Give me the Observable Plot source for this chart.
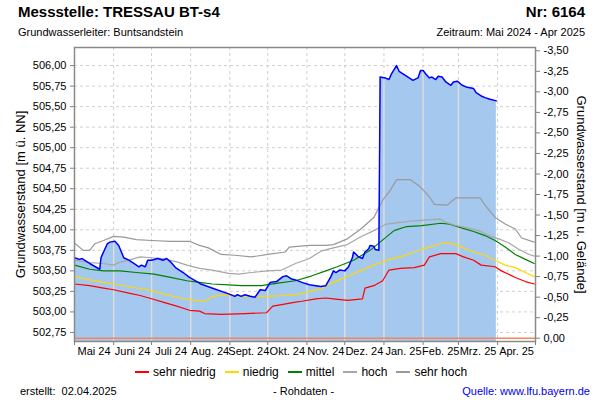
<!DOCTYPE html>
<html>
<head>
<meta charset="utf-8">
<script src="https://cdn.jsdelivr.net/npm/d3@7"></script>
<script src="https://cdn.jsdelivr.net/npm/@observablehq/plot@0.6"></script>
<style>
  body { margin:0; width:600px; height:400px; position:relative; background:#fff;
         font-family:"Liberation Sans", Arial, sans-serif; color:#000; overflow:hidden; }
  .abs { position:absolute; white-space:nowrap; line-height:1.2; }
  #legend { position:absolute; top:365px; left:135px; display:flex; align-items:center; font-size:12px; }
  #legend .item { display:flex; align-items:center; margin-right:9px; }
  #legend .sw { display:inline-block; width:14px; height:2px; margin-right:4px; }
</style>
</head>
<body>
<div class="abs" style="left:18px; top:3px; font-size:15px; font-weight:bold;">Messstelle: TRESSAU BT-s4</div>
<div class="abs" style="right:15px; top:3px; font-size:15px; font-weight:bold;">Nr: 6164</div>
<div class="abs" style="left:18px; top:26px; font-size:11px;">Grundwasserleiter: Buntsandstein</div>
<div class="abs" style="right:15px; top:26px; font-size:11px;">Zeitraum: Mai 2024 - Apr 2025</div>
<div id="chart" class="abs" style="left:0; top:40px;"></div>
<div id="legend"></div>
<div class="abs" style="left:20px; top:385px; font-size:11px;">erstellt:&nbsp; 02.04.2025</div>
<div class="abs" style="left:273px; top:385px; font-size:11px;">- Rohdaten -</div>
<div class="abs" style="right:10px; top:385px; font-size:11px; color:#0000ee;">Quelle: www.lfu.bayern.de</div>
<script>
// ---------- Daten ----------
const gelaende = 502.68; // Bezugshöhe Gelände (m ü. NN) für rechte Achse

const linksTicks = [502.75, 503.00, 503.25, 503.50, 503.75, 504.00, 504.25, 504.50, 504.75, 505.00, 505.25, 505.50, 505.75, 506.00];
const rechtsTicks = [-3.50, -3.25, -3.00, -2.75, -2.50, -2.25, -2.00, -1.75, -1.50, -1.25, -1.00, -0.75, -0.50, -0.25, 0.00];
const monate = ["Mai 24", "Juni 24", "Juli 24", "Aug. 24", "Sept. 24", "Okt. 24", "Nov. 24", "Dez. 24", "Jan. 25", "Feb. 25", "Mrz. 25", "Apr. 25"];

const messwerte = [
["2024-05-01",503.66],["2024-05-05",503.64],["2024-05-07",503.65],["2024-05-13",503.59],["2024-05-21",503.52],
["2024-05-22",503.66],["2024-05-24",503.73],["2024-05-27",503.83],["2024-05-29",503.85],["2024-06-02",503.86],
["2024-06-05",503.81],["2024-06-09",503.66],["2024-06-13",503.63],["2024-06-17",503.59],["2024-06-21",503.55],
["2024-06-23",503.57],["2024-06-26",503.55],["2024-06-28",503.63],["2024-07-01",503.63],["2024-07-06",503.65],
["2024-07-10",503.63],["2024-07-13",503.65],["2024-07-16",503.61],["2024-07-20",503.54],["2024-07-26",503.48],
["2024-07-31",503.42],["2024-08-07",503.36],["2024-08-09",503.34],["2024-08-20",503.28],["2024-08-31",503.22],
["2024-09-05",503.19],["2024-09-07",503.21],["2024-09-10",503.19],["2024-09-13",503.21],["2024-09-17",503.19],
["2024-09-21",503.18],["2024-09-25",503.27],["2024-09-29",503.26],["2024-10-03",503.36],["2024-10-08",503.37],
["2024-10-13",503.43],["2024-10-16",503.44],["2024-10-20",503.40],["2024-10-23",503.39],["2024-10-28",503.36],
["2024-11-03",503.33],["2024-11-08",503.32],["2024-11-12",503.31],["2024-11-16",503.32],["2024-11-20",503.43],
["2024-11-22",503.50],["2024-11-24",503.48],["2024-11-27",503.51],["2024-12-01",503.50],["2024-12-04",503.55],
["2024-12-07",503.66],["2024-12-08",503.73],["2024-12-12",503.67],["2024-12-15",503.65],["2024-12-17",503.73],
["2024-12-20",503.77],["2024-12-21",503.81],["2024-12-24",503.80],["2024-12-25",503.76],["2024-12-28",503.75],
["2024-12-29",505.86],["2025-01-02",505.85],["2025-01-05",505.83],["2025-01-07",505.90],["2025-01-11",506.00],
["2025-01-13",505.93],["2025-01-17",505.89],["2025-01-21",505.85],["2025-01-24",505.82],["2025-01-28",505.85],
["2025-01-30",505.94],["2025-02-01",505.94],["2025-02-03",505.90],["2025-02-06",505.85],["2025-02-08",505.86],
["2025-02-11",505.83],["2025-02-13",505.87],["2025-02-16",505.86],["2025-02-19",505.80],["2025-02-23",505.76],
["2025-02-25",505.80],["2025-02-28",505.81],["2025-03-04",505.76],["2025-03-07",505.74],["2025-03-13",505.72],
["2025-03-15",505.67],["2025-03-19",505.63],["2025-03-22",505.61],["2025-03-26",505.59],["2025-03-31",505.57]
];

const sehrNiedrig = [
["2024-05-01",503.34],["2024-05-13",503.32],["2024-05-24",503.29],["2024-06-01",503.27],["2024-06-13",503.23],
["2024-06-22",503.20],["2024-07-01",503.16],["2024-07-10",503.12],["2024-07-21",503.07],["2024-07-31",503.02],
["2024-08-08",503.01],["2024-08-12",502.98],["2024-08-25",502.97],["2024-09-13",502.98],["2024-09-30",502.99],
["2024-10-05",503.07],["2024-10-12",503.09],["2024-10-23",503.12],["2024-10-28",503.13],["2024-11-08",503.16],
["2024-11-16",503.17],["2024-11-22",503.16],["2024-12-03",503.14],["2024-12-15",503.16],["2024-12-17",503.29],
["2024-12-24",503.32],["2024-12-31",503.38],["2025-01-05",503.51],["2025-01-14",503.53],["2025-01-25",503.54],
["2025-02-02",503.57],["2025-02-06",503.67],["2025-02-15",503.71],["2025-02-27",503.71],["2025-03-05",503.67],
["2025-03-13",503.63],["2025-03-19",503.57],["2025-03-30",503.55],["2025-04-04",503.50],["2025-04-15",503.42],
["2025-04-23",503.37],["2025-04-30",503.34]
];

const niedrig = [
["2024-05-01",503.43],["2024-05-13",503.39],["2024-05-24",503.36],["2024-06-01",503.34],["2024-06-13",503.31],
["2024-07-01",503.26],["2024-07-10",503.22],["2024-07-24",503.17],["2024-08-04",503.14],["2024-08-12",503.13],
["2024-08-18",503.19],["2024-08-31",503.21],["2024-09-13",503.19],["2024-09-30",503.19],["2024-10-12",503.20],
["2024-10-23",503.21],["2024-10-30",503.23],["2024-11-05",503.26],["2024-11-12",503.28],["2024-11-16",503.32],
["2024-11-22",503.36],["2024-12-01",503.42],["2024-12-13",503.50],["2024-12-24",503.57],["2025-01-03",503.63],
["2025-01-14",503.67],["2025-01-25",503.73],["2025-02-04",503.78],["2025-02-15",503.83],["2025-02-19",503.84],
["2025-02-27",503.82],["2025-03-05",503.78],["2025-03-13",503.73],["2025-03-22",503.69],["2025-03-30",503.63],
["2025-04-07",503.57],["2025-04-15",503.54],["2025-04-23",503.48],["2025-04-30",503.43]
];

const mittel = [
["2024-05-01",503.57],["2024-05-13",503.52],["2024-05-24",503.50],["2024-06-06",503.50],["2024-06-19",503.48],
["2024-07-03",503.46],["2024-07-16",503.42],["2024-07-29",503.38],["2024-08-08",503.36],["2024-08-18",503.34],
["2024-08-31",503.33],["2024-09-10",503.32],["2024-09-26",503.32],["2024-10-09",503.35],["2024-10-23",503.38],
["2024-11-05",503.44],["2024-11-16",503.50],["2024-11-25",503.55],["2024-12-08",503.63],["2024-12-21",503.75],
["2024-12-29",503.85],["2025-01-09",503.99],["2025-01-19",504.04],["2025-01-31",504.05],["2025-02-15",504.08],
["2025-02-22",504.07],["2025-03-04",504.02],["2025-03-13",503.98],["2025-03-22",503.93],["2025-03-30",503.87],
["2025-04-07",503.79],["2025-04-15",503.70],["2025-04-23",503.64],["2025-04-30",503.59]
];

const hoch = [
["2024-05-01",503.63],["2024-05-13",503.60],["2024-05-24",503.59],["2024-06-01",503.57],["2024-06-05",503.60],
["2024-06-13",503.63],["2024-06-22",503.67],["2024-07-01",503.66],["2024-07-10",503.65],["2024-07-21",503.61],
["2024-07-29",503.57],["2024-08-08",503.53],["2024-08-18",503.51],["2024-08-31",503.47],["2024-09-08",503.46],
["2024-09-18",503.48],["2024-10-01",503.50],["2024-10-12",503.51],["2024-10-23",503.59],["2024-11-03",503.65],
["2024-11-12",503.74],["2024-11-22",503.78],["2024-12-03",503.82],["2024-12-13",503.91],["2024-12-24",503.99],
["2025-01-03",504.07],["2025-01-14",504.09],["2025-01-25",504.11],["2025-02-04",504.12],["2025-02-15",504.13],
["2025-02-19",504.09],["2025-02-27",504.05],["2025-03-09",504.02],["2025-03-17",503.99],["2025-03-25",503.93],
["2025-04-02",503.89],["2025-04-10",503.84],["2025-04-18",503.76],["2025-04-26",503.70],["2025-04-30",503.68]
];

const sehrHoch = [
["2024-05-01",503.84],["2024-05-08",503.75],["2024-05-13",503.75],["2024-05-17",503.83],["2024-05-24",503.87],
["2024-06-01",503.92],["2024-06-09",503.91],["2024-06-19",503.88],["2024-07-01",503.87],["2024-07-16",503.86],
["2024-07-31",503.86],["2024-08-08",503.81],["2024-08-15",503.78],["2024-08-25",503.70],["2024-09-05",503.69],
["2024-09-18",503.67],["2024-10-01",503.70],["2024-10-15",503.73],["2024-10-18",503.79],["2024-11-03",503.81],
["2024-11-16",503.81],["2024-11-22",503.82],["2024-12-03",503.89],["2024-12-13",504.00],["2024-12-24",504.15],
["2024-12-31",504.36],["2025-01-06",504.48],["2025-01-11",504.61],["2025-01-22",504.61],["2025-01-30",504.52],
["2025-02-06",504.40],["2025-02-10",504.31],["2025-02-20",504.30],["2025-02-27",504.39],["2025-03-18",504.39],
["2025-03-22",504.30],["2025-03-30",504.15],["2025-04-07",504.07],["2025-04-15",504.01],["2025-04-20",503.90],
["2025-04-30",503.85]
];

// ---------- Aufbereitung ----------
const parse = s => new Date(s + "T00:00:00Z");
const rows = arr => arr.map(([d, v]) => ({date: parse(d), value: v}));
const mess = rows(messwerte);

const serien = [
  {name: "sehr niedrig", color: "#ff0000", data: rows(sehrNiedrig)},
  {name: "niedrig",      color: "#ffd800", data: rows(niedrig)},
  {name: "mittel",       color: "#008000", data: rows(mittel)},
  {name: "hoch",         color: "#a6a6a6", data: rows(hoch)},
  {name: "sehr hoch",    color: "#999999", data: rows(sehrHoch)}
];

const xStart = parse("2024-05-01"), xEnde = parse("2025-05-01");
const yMin = 502.64, yMax = 506.22;
const monatsAnfaenge = d3.utcMonth.range(xStart, d3.utcDay.offset(xEnde, 1));
const monatsMitten = monatsAnfaenge.slice(0, -1).map((m, i) => new Date((+m + +monatsAnfaenge[i + 1]) / 2));
const labelMap = new Map(monatsMitten.map((d, i) => [+d, monate[i]]));

// Monatslinien innerhalb der Messwertfläche (bis zur Messkurve)
const bis = d3.bisector(d => d.date).left;
const monatsLinien = monatsAnfaenge
  .filter(m => m > mess[0].date && m < mess[mess.length - 1].date)
  .map(m => {
    const i = bis(mess, m);
    const a = mess[i - 1], b = mess[i];
    const t = (m - a.date) / (b.date - a.date);
    return {date: m, value: a.value + t * (b.value - a.value)};
  });

const fmt = v => d3.format(".2f")(v).replace(".", ",").replace("−", "-");
const rechtsPos = rechtsTicks.map(r => gelaende - r);

const chart = Plot.plot({
  width: 600,
  height: 325,
  marginTop: 7,
  marginBottom: 24,
  marginLeft: 74,
  marginRight: 65,
  style: {fontFamily: "'Liberation Sans', Arial, sans-serif", fontSize: "11px", color: "#000", background: "transparent", overflow: "visible"},
  x: {type: "utc", domain: [xStart, xEnde]},
  y: {domain: [yMin, yMax]},
  marks: [
    Plot.gridY(linksTicks, {stroke: "#cfcfcf", strokeOpacity: 1, strokeDasharray: "3,3"}),
    Plot.gridX(monatsAnfaenge, {stroke: "#cfcfcf", strokeOpacity: 1, strokeDasharray: "3,3"}),
    Plot.areaY(mess, {x: "date", y1: () => yMin, y2: "value", fill: "#a5c8ef"}),
    Plot.ruleX(monatsLinien, {x: "date", y1: () => yMin, y2: "value", stroke: "#dcdcdc", strokeWidth: 1.5}),
    Plot.ruleY([gelaende], {stroke: "#f2865c", strokeWidth: 1.5}),
    ...serien.map(s => Plot.line(s.data, {x: "date", y: "value", stroke: s.color, strokeWidth: 1.2})),
    Plot.line(mess, {x: "date", y: "value", stroke: "#0000ff", strokeWidth: 1.5}),
    Plot.frame({stroke: "#8a8a8a", strokeWidth: 1.5}),
    Plot.axisY(linksTicks, {anchor: "left", tickSize: 4, tickPadding: 4, stroke: "#808080", tickFormat: fmt, label: null}),
    Plot.axisY(rechtsPos, {anchor: "right", tickSize: 4, tickPadding: 4, stroke: "#808080", tickFormat: v => fmt(Math.round((gelaende - v) * 100) / 100 + 0), label: null}),
    Plot.axisX(monatsMitten, {anchor: "bottom", tickSize: 0, tickPadding: 6, tickFormat: d => labelMap.get(+d), label: null}),
    Plot.axisX(monatsAnfaenge, {anchor: "bottom", tickSize: 4, stroke: "#808080", tickFormat: () => "", label: null}),
    Plot.text(["Grundwasserstand [m ü. NN]"], {frameAnchor: "left", textAnchor: "middle", rotate: -90, dx: -54, fontSize: 13}),
    Plot.text(["Grundwasserstand [m u. Gelände]"], {frameAnchor: "right", textAnchor: "middle", rotate: 90, dx: 46, fontSize: 13})
  ]
});
document.getElementById("chart").appendChild(chart);

// Legende
const legend = document.getElementById("legend");
for (const s of serien) {
  const item = document.createElement("span");
  item.className = "item";
  const sw = document.createElement("span");
  sw.className = "sw";
  sw.style.background = s.color;
  item.appendChild(sw);
  item.appendChild(document.createTextNode(s.name));
  legend.appendChild(item);
}
</script>
</body>
</html>
